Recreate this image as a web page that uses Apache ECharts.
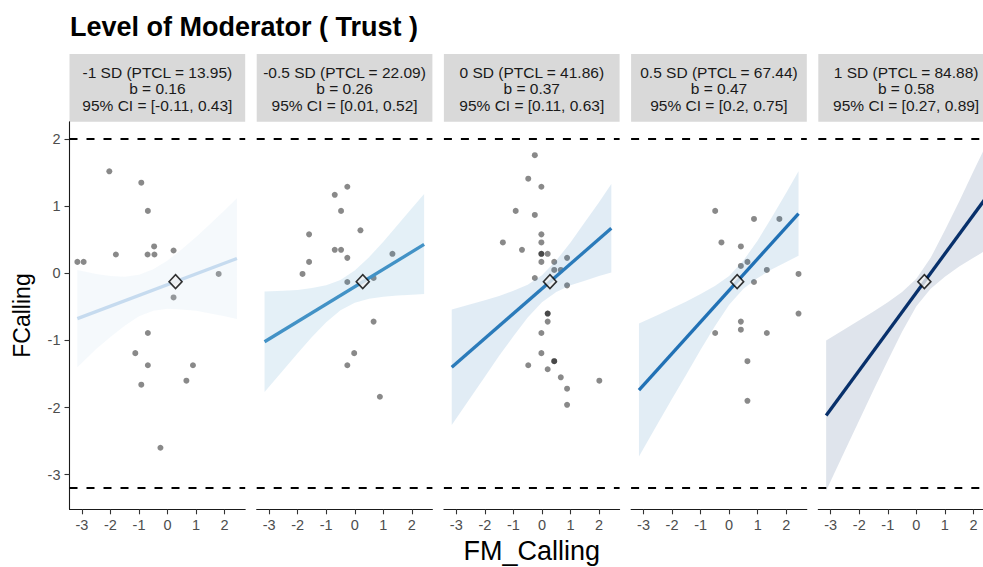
<!DOCTYPE html>
<html><head><meta charset="utf-8">
<script src="https://cdn.jsdelivr.net/npm/echarts@6/dist/echarts.min.js"></script>
<style>html,body{margin:0;padding:0;background:#fff}#c{width:983px;height:567px}</style>
</head><body><div id="c"></div>
<script>
// ---------- data ----------
const titleText = 'Level of Moderator ( Trust )';
const xTitle = 'FM_Calling';
const yTitle = 'FCalling';
const stripLine1 = ['-1 SD (PTCL = 13.95)', '-0.5 SD (PTCL = 22.09)', '0 SD (PTCL = 41.86)', '0.5 SD (PTCL = 67.44)', '1 SD (PTCL = 84.88)'];
const stripB = ['0.16', '0.26', '0.37', '0.47', '0.58'];
const stripCI = ['[-0.11, 0.43]', '[0.01, 0.52]', '[0.11, 0.63]', '[0.2, 0.75]', '[0.27, 0.89]'];
const xTicks = [-3, -2, -1, 0, 1, 2];
const yTicks = [-3, -2, -1, 0, 1, 2];
const xRange = [-3.435, 2.72];
const yRange = [-3.517, 2.259];
const refLines = [2, -3.195];

// scatter points per panel
const p1x = [-2.04, -0.92, -0.69, -0.47, -1.81, -0.70, -0.46, 0.21, -3.16, -2.94, 1.79, 0.21, -0.69, -1.13, -0.69, 0.89, -0.92, 0.66, -0.25];
const p1y = [1.52, 1.35, 0.93, 0.40, 0.28, 0.28, 0.28, 0.34, 0.17, 0.17, -0.01, -0.36, -0.89, -1.19, -1.37, -1.37, -1.66, -1.60, -2.60];
const p2x = [-0.26, -0.70, -0.48, 0.20, -1.60, -0.70, -0.48, -0.26, 1.32, -1.60, -1.83, -0.26, 0.66, 0.66, -0.02, -0.26, 0.88];
const p2y = [1.29, 1.17, 0.93, 0.64, 0.58, 0.35, 0.35, 0.23, 0.29, 0.17, -0.01, -0.13, -0.07, -0.72, -1.19, -1.37, -1.84];
const p3x = [-0.25, -0.48, -0.02, -0.92, -0.25, -0.02, -1.37, -0.02, -0.70, -0.02, -0.02, 0.20, -0.02, 0.43, 0.88, 0.43, 0.66, -0.25, 0.88, 0.20, 0.20, 0.20, -0.02, -0.02, -0.48, 0.43, 0.43, 0.20, 0.66, 2.01, 0.88, 0.88];
const p3y = [1.76, 1.41, 1.29, 0.93, 0.87, 0.58, 0.46, 0.46, 0.35, 0.29, 0.29, 0.29, 0.17, 0.17, 0.23, 0.05, 0.05, -0.07, -0.18, -0.60, -0.60, -0.72, -0.89, -1.19, -1.37, -1.31, -1.31, -1.43, -1.55, -1.60, -1.72, -1.96];
const p4x = [-0.49, 0.87, 1.76, -0.27, 0.41, 0.64, 0.41, 1.32, 2.43, 0.87, 2.43, 0.41, 0.41, -0.49, 1.32, 0.64, 0.64];
const p4y = [0.93, 0.81, 0.81, 0.46, 0.40, 0.17, 0.11, 0.05, -0.01, -0.13, -0.60, -0.72, -0.84, -0.89, -0.89, -1.31, -1.90];
const p5x = [];
const p5y = [];

// regression lines (end points)
const lineX = [-3.16, 2.43];
const lineStart = [-0.675, -1.02, -1.40, -1.74, -2.12];
const lineEnd = [0.22, 0.43, 0.67, 0.89, 1.12];

// confidence bands
const bandX = [-3.16, -2.5, -2, -1.5, -1, -0.5, 0, 0.5, 1, 1.5, 2, 2.43];
const band1Up = [0.05, -0.01, -0.04, -0.05, -0.02, 0.06, 0.19, 0.36, 0.54, 0.74, 0.94, 1.12];
const band1Lo = [-1.40, -1.13, -0.95, -0.78, -0.64, -0.56, -0.53, -0.54, -0.56, -0.60, -0.64, -0.68];
const band2Up = [-0.27, -0.26, -0.25, -0.22, -0.18, -0.10, 0.04, 0.24, 0.47, 0.72, 0.97, 1.18];
const band2Lo = [-1.77, -1.44, -1.19, -0.95, -0.73, -0.55, -0.44, -0.38, -0.35, -0.33, -0.32, -0.31];
const band3Up = [-0.54, -0.46, -0.40, -0.34, -0.26, -0.17, -0.03, 0.19, 0.46, 0.76, 1.06, 1.33];
const band3Lo = [-2.26, -1.85, -1.54, -1.23, -0.94, -0.66, -0.43, -0.28, -0.18, -0.11, -0.04, 0.01];
const band4Up = [-0.75, -0.62, -0.52, -0.42, -0.31, -0.19, -0.04, 0.19, 0.49, 0.84, 1.20, 1.52];
const band4Lo = [-2.73, -2.24, -1.87, -1.51, -1.14, -0.79, -0.47, -0.23, -0.07, 0.06, 0.17, 0.26];
const band5Up = [-1.00, -0.83, -0.70, -0.57, -0.43, -0.28, -0.08, 0.23, 0.64, 1.07, 1.52, 1.90];
const band5Lo = [-3.24, -2.64, -2.19, -1.74, -1.30, -0.87, -0.49, -0.23, -0.05, 0.10, 0.23, 0.34];

// mean point
const meanX = 0.28;
const meanY = -0.125;

// ---------- styling / layout ----------
const FONT = '"Liberation Sans", Arial, Helvetica, sans-serif';
const lineColors = ['#c6dbef', '#4292c6', '#2b7bba', '#2171b5', '#08306b'];
const bandColors = ['rgba(198,219,239,0.18)', 'rgba(66,146,198,0.14)', 'rgba(43,123,186,0.14)', 'rgba(33,113,181,0.13)', 'rgba(8,48,107,0.13)'];
const PX0 = 69.5, PSTEP = 187.2, PW = 175.7, PTOP = 121.7, PH = 387.6;
const STRIP_TOP = 54, STRIP_H = 67.7;

const pts = [[p1x, p1y], [p2x, p2y], [p3x, p3y], [p4x, p4y], [p5x, p5y]];
const bands = [[band1Up, band1Lo], [band2Up, band2Lo], [band3Up, band3Lo], [band4Up, band4Lo], [band5Up, band5Lo]];

function bandRenderer(up, lo, color) {
  return function (params, api) {
    if (params.dataIndex !== 0) return null;
    const top = bandX.map((x, k) => api.coord([x, up[k]]));
    const bot = bandX.map((x, k) => api.coord([x, lo[k]])).reverse();
    return {
      type: 'polygon',
      shape: { points: top.concat(bot) },
      style: { fill: color, stroke: null },
      silent: true
    };
  };
}

const grids = [], xAxes = [], yAxes = [], series = [], graphics = [];
for (let i = 0; i < 5; i++) {
  const L = PX0 + i * PSTEP;
  grids.push({ left: L, top: PTOP, width: PW, height: PH, outerBoundsMode: 'none', containLabel: false });
  xAxes.push({
    type: 'value', gridIndex: i, min: xRange[0], max: xRange[1],
    axisLine: { show: true, onZero: false, lineStyle: { color: '#1a1a1a', width: 1.1 } },
    axisTick: { show: true, customValues: xTicks, length: 5, lineStyle: { color: '#333', width: 1.1 } },
    axisLabel: { customValues: xTicks, color: '#4d4d4d', fontSize: 14.5, margin: 8, fontFamily: FONT },
    splitLine: { show: false },
    name: i === 2 ? xTitle : '', nameLocation: 'middle', nameGap: 26,
    nameTextStyle: { fontSize: 27, color: '#000', fontFamily: FONT }
  });
  if (i === 0) {
    yAxes.push({
      type: 'value', gridIndex: i, min: yRange[0], max: yRange[1],
      axisLine: { show: true, onZero: false, lineStyle: { color: '#1a1a1a', width: 1.1 } },
      axisTick: { show: true, customValues: yTicks, length: 5, lineStyle: { color: '#333', width: 1.1 } },
      axisLabel: { customValues: yTicks, color: '#4d4d4d', fontSize: 14.5, margin: 9, fontFamily: FONT },
      splitLine: { show: false },
      name: yTitle, nameLocation: 'middle', nameGap: 36, nameRotate: 90,
      nameTextStyle: { fontSize: 23, color: '#000', fontFamily: FONT }
    });
  } else {
    yAxes.push({ type: 'value', gridIndex: i, min: yRange[0], max: yRange[1], show: false, splitLine: { show: false } });
  }

  const [xs, ys] = pts[i];
  series.push({
    type: 'scatter', xAxisIndex: i, yAxisIndex: i, z: 2, silent: true,
    data: xs.map((x, k) => [x, ys[k]]), symbolSize: 6,
    itemStyle: { color: 'rgba(0,0,0,0.58)' }
  });
  const [up, lo] = bands[i];
  series.push({
    type: 'custom', xAxisIndex: i, yAxisIndex: i, z: 3, silent: true, clip: true,
    data: bandX.map((x, k) => [x, lo[k], up[k]]),
    encode: { x: 0, y: [1, 2] },
    renderItem: bandRenderer(up, lo, bandColors[i])
  });
  series.push({
    type: 'line', xAxisIndex: i, yAxisIndex: i, z: 4, silent: true,
    data: [[lineX[0], lineStart[i]], [lineX[1], lineEnd[i]]], symbol: 'none',
    lineStyle: { color: lineColors[i], width: 3.3 },
    markLine: {
      silent: true, symbol: 'none', label: { show: false },
      lineStyle: { color: '#000', width: 1.8, type: [8, 9] },
      data: refLines.map(v => ({ yAxis: v }))
    }
  });
  series.push({
    type: 'scatter', xAxisIndex: i, yAxisIndex: i, z: 5, silent: true,
    data: [[meanX, meanY]], symbol: 'diamond', symbolSize: [13, 14],
    itemStyle: { color: '#f2f2f2', borderColor: '#000', borderWidth: 1.6 }
  });

  graphics.push({ type: 'rect', shape: { x: L, y: STRIP_TOP, width: PW, height: STRIP_H }, style: { fill: '#d9d9d9' }, silent: true });
  graphics.push({
    type: 'text', x: L + PW / 2, y: STRIP_TOP + STRIP_H / 2 + 1, silent: true,
    style: {
      text: stripLine1[i] + '\nb = ' + stripB[i] + '\n95% CI = ' + stripCI[i],
      align: 'center', verticalAlign: 'middle', fontSize: 15.5, lineHeight: 16.5,
      fontFamily: FONT, fill: '#1a1a1a'
    }
  });
}

const chart = echarts.init(document.getElementById('c'), null, { renderer: 'svg' });
chart.setOption({
  animation: false,
  backgroundColor: '#fff',
  title: { text: titleText, left: 65, top: 8, textStyle: { fontSize: 27, fontWeight: 'bold', color: '#000', fontFamily: FONT } },
  grid: grids, xAxis: xAxes, yAxis: yAxes, series: series, graphic: graphics
});
</script></body></html>
